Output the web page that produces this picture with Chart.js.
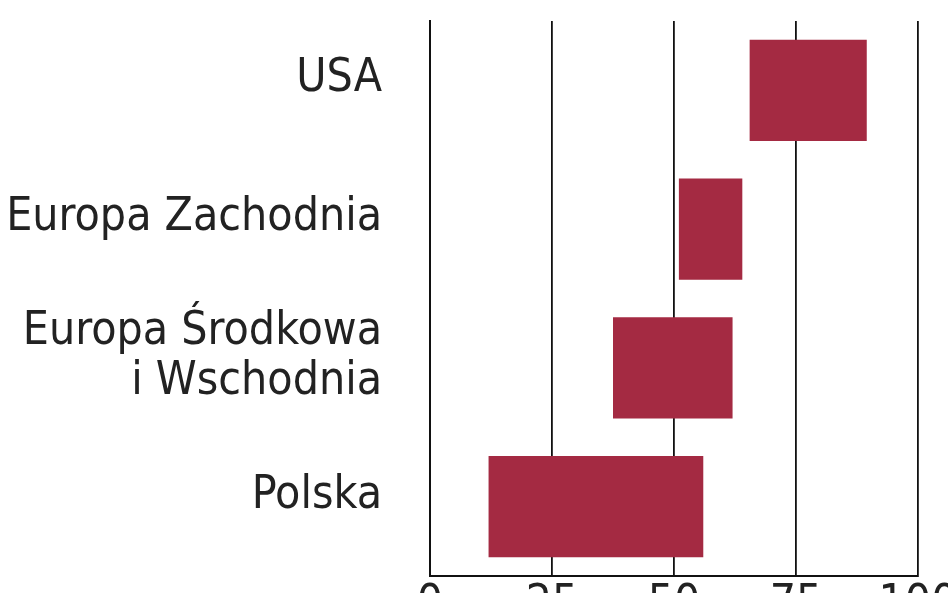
<!DOCTYPE html>
<html>
<head>
<meta charset="utf-8">
<script src="https://cdn.jsdelivr.net/npm/chart.js@4/dist/chart.umd.min.js"></script>
<style>
    html, body { margin: 0; padding: 0; background: #fff; overflow: hidden; }
    #wrap { width: 948px; height: 633px; position: relative; }
</style>
</head>
<body>
<div id="wrap"><canvas id="rangeChart"></canvas></div>
<script>
// categories and the start/end of each range
const regions = ['USA', 'Europa Zachodnia', ['Europa Środkowa', 'i Wschodnia'], 'Polska'];
const rangeFrom = [65.5, 51, 37.5, 12];
const rangeTo = [89.5, 64, 62, 56];
const xTicks = [0, 25, 50, 75, 100];

const labelFont = "'Liberation Sans Narrow', 'DejaVu Sans Condensed', 'Roboto Condensed', 'Liberation Sans', sans-serif";

document.addEventListener("DOMContentLoaded", () => {
    const ctx = document.getElementById('rangeChart').getContext('2d');
    new Chart(ctx, {
        type: 'bar',
        data: {
            labels: regions,
            datasets: [{
                data: regions.map((r, i) => [rangeFrom[i], rangeTo[i]]),
                backgroundColor: '#a42a42',
                borderWidth: 0,
                barPercentage: 0.73,
                categoryPercentage: 1
            }]
        },
        options: {
            indexAxis: 'y',
            responsive: true,
            maintainAspectRatio: false,
            animation: false,
            layout: { padding: { top: 21, left: 0, right: 30, bottom: 0 } },
            plugins: {
                legend: { display: false },
                tooltip: { enabled: false }
            },
            scales: {
                x: {
                    min: 0,
                    max: 100,
                    afterBuildTicks: (axis) => { axis.ticks = xTicks.map(v => ({ value: v })); },
                    afterFit: (axis) => { axis.paddingLeft = 0; axis.paddingRight = 0; },
                    grid: { color: '#111', lineWidth: 1.8, drawTicks: false },
                    border: { display: true, color: '#111', width: 2 },
                    ticks: {
                        color: '#222',
                        padding: 2,
                        font: { family: labelFont, size: 46, lineHeight: 1.15 }
                    }
                },
                y: {
                    grid: { display: false, drawTicks: false },
                    border: { display: true, color: '#111', width: 2 },
                    afterFit: (axis) => { axis.width = 430; axis.paddingTop = 0; axis.paddingBottom = 0; },
                    ticks: {
                        color: '#222',
                        padding: 48,
                        labelOffset: -11,
                        font: { family: labelFont, size: 46, lineHeight: 1.09 }
                    }
                }
            }
        }
    });
});
</script>
</body>
</html>
